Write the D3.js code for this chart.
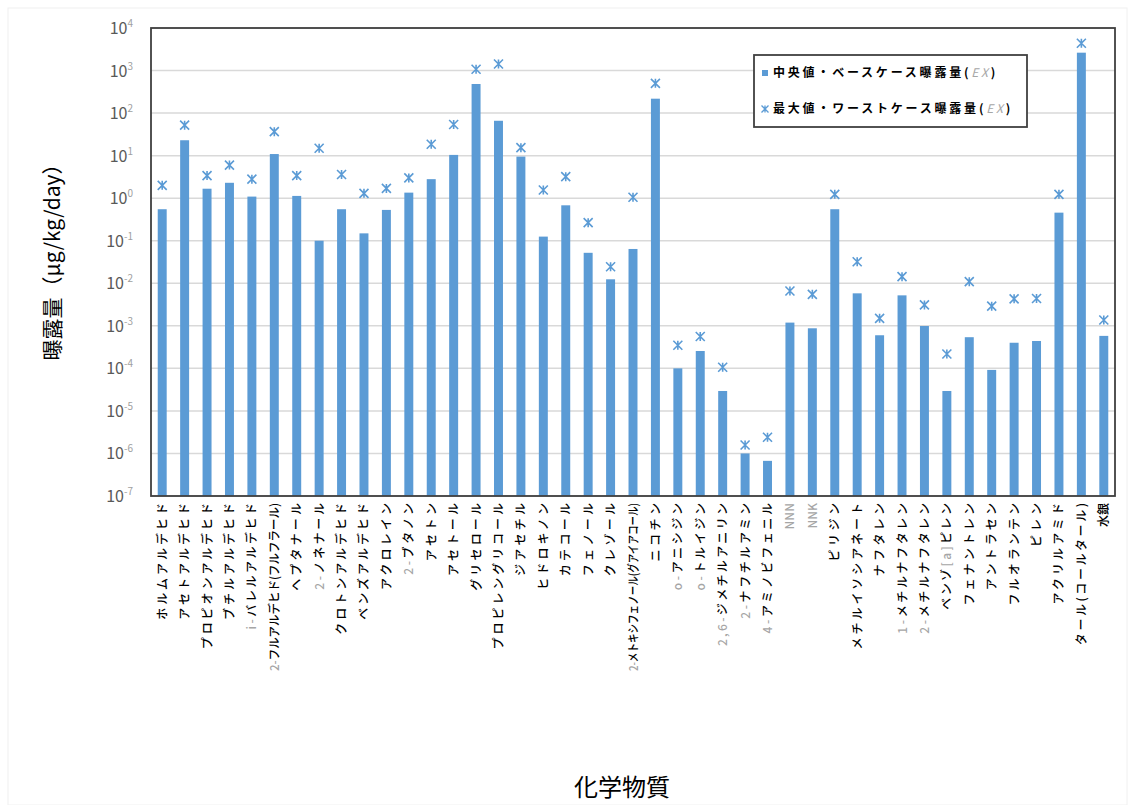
<!DOCTYPE html>
<html>
<head>
<meta charset="utf-8">
<script src="https://cdn.jsdelivr.net/npm/d3@7/dist/d3.min.js"></script>
<style>
  body { margin: 0; background: #fff; }
  text { font-family: "Noto Sans CJK JP", "Noto Sans", sans-serif; }
</style>
</head>
<body>
<script>
/*--- data ---*/
// {..} = grey part of the label
let chemicals = [
  "ホルムアルデヒド", "アセトアルデヒド", "プロピオンアルデヒド", "ブチルアルデヒド",
  "{i-}バレルアルデヒド", "{2-}フルアルデヒド(フルフラール)", "ヘプタナール", "{2-}ノネナール",
  "クロトンアルデヒド", "ベンズアルデヒド", "アクロレイン", "{2-}ブタノン", "アセトン",
  "アセトール", "グリセロール", "プロピレングリコール", "ジアセチル", "ヒドロキノン",
  "カテコール", "フェノール", "クレゾール", "{2-}メトキシフェノール(グアイアコール)",
  "ニコチン", "{o-}アニシジン", "{o-}トルイジン", "{2,6-}ジメチルアニリン",
  "{2-}ナフチルアミン", "{4-}アミノビフェニル", "{NNN}", "{NNK}", "ピリジン",
  "メチルイソシアネート", "ナフタレン", "{1-}メチルナフタレン", "{2-}メチルナフタレン",
  "ベンゾ{[a]}ピレン", "フェナントレン", "アントラセン", "フルオランテン", "ピレン",
  "アクリルアミド", "タール(コールタール)", "水銀"
];

let medianEx = [0.55, 23, 1.67, 2.3, 1.09, 10.9, 1.13, 0.10, 0.55, 0.149, 0.53, 1.35, 2.8,
  10.4, 483, 66, 9.5, 0.125, 0.68, 0.052, 0.0124, 0.064, 218, 1.0e-4, 2.56e-4, 2.94e-5,
  1.0e-6, 6.7e-7, 1.19e-3, 8.75e-4, 0.55, 5.8e-3, 6.0e-4, 5.2e-3, 9.9e-4, 2.94e-5, 5.4e-4,
  9.2e-5, 4.0e-4, 4.4e-4, 0.457, 2630, 5.8e-4];

let maxEx = [2.0, 52, 3.4, 6.0, 2.8, 36.6, 3.4, 14.9, 3.6, 1.3, 1.7, 3.0, 18.5, 54, 1070,
  1425, 15.4, 1.56, 3.2, 0.266, 0.0245, 1.05, 501, 3.5e-4, 5.6e-4, 1.06e-4, 1.58e-6, 2.4e-6,
  6.6e-3, 5.5e-3, 1.23, 0.032, 1.5e-3, 0.0143, 3.1e-3, 2.18e-4, 0.0109, 2.9e-3, 4.3e-3,
  4.4e-3, 1.23, 4370, 1.37e-3];

let tickExp = [4, 3, 2, 1, 0, -1, -2, -3, -4, -5, -6, -7];

let legendNames = ["中央値・ベースケース曝露量", "最大値・ワーストケース曝露量"];

/*--- layout ---*/
let width = 1135, height = 805;
let plot = {left: 151, right: 1115, top: 28, bottom: 496};
let blue = "#5B9BD5";

let svg = d3.select("body").append("svg")
  .attr("width", width).attr("height", height);

// faint outer border
svg.append("rect").attr("x", 8).attr("y", 8).attr("width", width - 16).attr("height", height - 8)
  .attr("fill", "none").attr("stroke", "#f0f0f0");

let X = d3.scaleBand().domain(d3.range(chemicals.length))
  .range([plot.left, plot.right]).paddingInner(0.6).paddingOuter(0.3);
let Y = d3.scaleLog().domain([1e-7, 1e4]).range([plot.bottom, plot.top]);

// grid
svg.append("g").selectAll("line").data(tickExp).join("line")
  .attr("x1", plot.left).attr("x2", plot.right)
  .attr("y1", d => Y(Math.pow(10, d))).attr("y2", d => Y(Math.pow(10, d)))
  .attr("stroke", "#d9d9d9").attr("stroke-width", 1.5);

// tick labels 10^n
let tl = svg.append("g").selectAll("text").data(tickExp).join("text")
  .attr("x", 133).attr("y", d => Y(Math.pow(10, d)) + 6)
  .attr("text-anchor", "end").attr("font-size", 16).attr("fill", "#595959");
tl.append("tspan").text("10");
tl.append("tspan").attr("dy", -7).attr("font-size", 10).attr("fill", "#a0a0a0")
  .text(d => d < 0 ? "-" + (-d) : d);

// bars
svg.append("g").selectAll("rect").data(medianEx).join("rect")
  .attr("x", (d, i) => X(i))
  .attr("width", X.bandwidth())
  .attr("y", d => Y(d))
  .attr("height", d => plot.bottom - Y(d))
  .attr("fill", blue);

// star marker (asterisk)
function star(s) {
  return "M" + (-s) + "," + (-s) + "L" + s + "," + s +
    "M" + s + "," + (-s) + "L" + (-s) + "," + s +
    "M0," + (-s) + "V" + s;
}

svg.append("g").selectAll("path").data(maxEx).join("path")
  .attr("transform", (d, i) => "translate(" + (X(i) + X.bandwidth() / 2) + "," + Y(d) + ")")
  .attr("d", star(4.5))
  .attr("fill", "none").attr("stroke", blue).attr("stroke-width", 1.6);

// plot frame
svg.append("rect").attr("x", plot.left).attr("y", plot.top)
  .attr("width", plot.right - plot.left).attr("height", plot.bottom - plot.top)
  .attr("fill", "none").attr("stroke", "#404040").attr("stroke-width", 1.8);

// category labels
let labels = svg.append("g").selectAll("text").data(chemicals).join("text")
  .attr("transform", (d, i) => "translate(" + (X(i) + X.bandwidth() / 2 + 4.5) + ",503) rotate(-90)")
  .attr("text-anchor", "end")
  .attr("font-size", 12)
  .attr("font-weight", 500)
  .attr("fill", "#000");

labels.each(function(d) {
  let t = d3.select(this);
  d.split(/(\{[^}]*\})/).filter(s => s.length).forEach(function(s) {
    if (s[0] == "{") {
      t.append("tspan").attr("fill", "#a6a6a6").text(s.slice(1, -1));
    } else {
      t.append("tspan").text(s);
    }
  });
  let n = this.getComputedTextLength();
  let L = n * 1.22;
  if (L > 168) {
    t.attr("textLength", 168).attr("lengthAdjust", "spacingAndGlyphs");
  } else if (n > 30) {
    t.attr("textLength", L).attr("lengthAdjust", "spacing");
  }
});

// axis titles
svg.append("text")
  .attr("transform", "translate(60,257) rotate(-90)")
  .attr("text-anchor", "middle").attr("font-size", 21).attr("fill", "#000")
  .text("曝露量（μg/kg/day）");

svg.append("text")
  .attr("x", 622).attr("y", 796)
  .attr("text-anchor", "middle").attr("font-size", 24).attr("fill", "#000")
  .text("化学物質");

// legend
let lg = svg.append("g");
lg.append("rect").attr("x", 754).attr("y", 55).attr("width", 273).attr("height", 72)
  .attr("fill", "#fff").attr("stroke", "#404040").attr("stroke-width", 1.8);

lg.append("rect").attr("x", 762).attr("y", 70).attr("width", 6).attr("height", 6).attr("fill", blue);
lg.append("path").attr("transform", "translate(765,109)").attr("d", star(3.5))
  .attr("fill", "none").attr("stroke", blue).attr("stroke-width", 1.3);

legendNames.forEach(function(name, i) {
  let t = lg.append("text").attr("x", 773).attr("y", 77 + i * 36)
    .attr("font-size", 12).attr("font-weight", "bold").attr("fill", "#000");
  t.append("tspan").text(name + "(");
  t.append("tspan").attr("font-style", "italic").attr("font-weight", "normal")
    .attr("fill", "#a6a6a6").text("EX");
  t.append("tspan").text(")");
  let n = t.node().getComputedTextLength();
  t.attr("textLength", n * 1.25).attr("lengthAdjust", "spacing");
});
</script>
</body>
</html>
